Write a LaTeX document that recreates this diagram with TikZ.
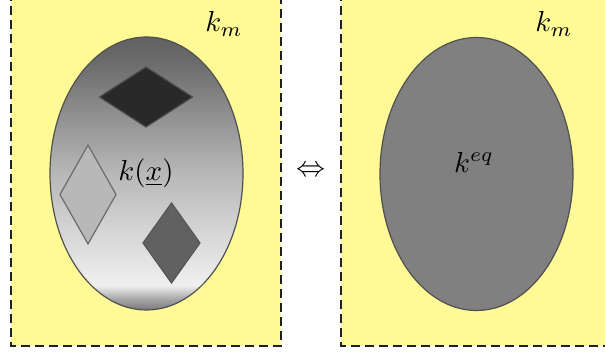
\documentclass[tikz,border=0pt]{standalone}
\usepackage{xcolor}
\definecolor{medium}{HTML}{FFF996}
\definecolor{rim}{HTML}{505050}
\definecolor{dash}{HTML}{202020}
\definecolor{incl}{HTML}{808080}
\usetikzlibrary{arrows.meta,positioning,shadings}
\pgfdeclareverticalshading{graded}{100bp}{
  color(0bp)=(black!52); color(25bp)=(black!52); color(27bp)=(black!35);
  color(29.5bp)=(black!6); color(31.5bp)=(black!8); color(50bp)=(black!28);
  color(70.5bp)=(black!58); color(75bp)=(black!62); color(100bp)=(black!62)}
\tikzset{
  x=1pt,y=1pt,
  cell/.style={fill=medium,draw=dash,line width=1.8pt,dash pattern=on 9pt off 5pt},
  grain/.style={draw=rim,line width=1.2pt},
  lbl/.style={inner sep=0pt,scale=2.9},
}
\begin{document}
\begin{tikzpicture}
  \useasboundingbox (0,0) rectangle (605,352);
  \clip (0,0) rectangle (605,352);
  % heterogeneous cell
  \fill[medium] (11,6) rectangle (281,360);
  \draw[cell,fill=none] (11,360) -- (11,6) -- (281,6) -- (281,360);
  \draw[grain,shading=graded] (146.5,178.5) ellipse [x radius=96.5,y radius=136.5];
  \draw[grain,fill=black!84,draw=black!70] (99.5,255) -- (146,285) -- (192.5,255) -- (146,225) -- cycle;
  \draw[grain,fill=black!28,draw=black!58] (60,157.5) -- (88,207) -- (116,157.5) -- (88,108) -- cycle;
  \draw[grain,fill=black!62,draw=black!66] (143,109) -- (171.5,149) -- (200,109) -- (171.5,69) -- cycle;
  \node[lbl] (kx) at (146,179) {$k(\underline{x})$};
  \node[lbl] (km1) at (224,328) {$k_m$};
  % equivalence
  \node[lbl] (eq) at (311,181) {$\Leftrightarrow$};
  % homogenised cell
  \fill[medium] (341,6) rectangle (620,360);
  \draw[cell,fill=none] (341,360) -- (341,6) -- (620,6);
  \draw[grain,fill=incl] (476.5,178) ellipse [x radius=96.5,y radius=136.5];
  \node[lbl] (keq) at (474,190) {$k^{eq}$};
  \node[lbl] (km2) at (554,328) {$k_m$};
\end{tikzpicture}
\end{document}
